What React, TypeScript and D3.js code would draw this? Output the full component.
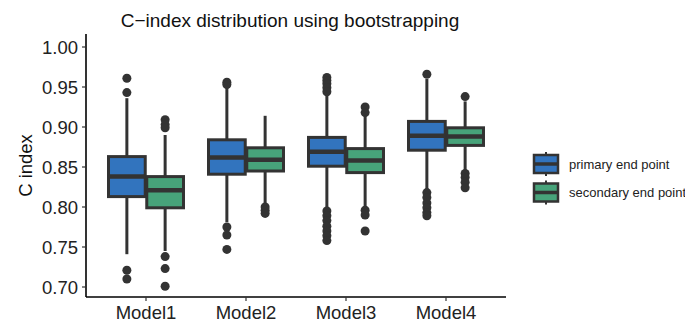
import * as d3 from "d3";

const models = ["Model1", "Model2", "Model3", "Model4"];
const groups = ["primary end point", "secondary end point"];
const colors = ["#3274BE", "#47A37A"];
const yTicks = [0.7, 0.75, 0.8, 0.85, 0.9, 0.95, 1.0];

// [lowerWhisker, q1, median, q3, upperWhisker] per model
const primaryStats = [
  [0.741, 0.813, 0.838, 0.863, 0.936],
  [0.781, 0.841, 0.862, 0.884, 0.95],
  [0.8, 0.851, 0.869, 0.887, 0.94],
  [0.822, 0.871, 0.889, 0.907, 0.96],
];
const secondaryStats = [
  [0.745, 0.799, 0.821, 0.838, 0.89],
  [0.803, 0.845, 0.859, 0.874, 0.914],
  [0.8, 0.843, 0.858, 0.873, 0.914],
  [0.845, 0.877, 0.888, 0.899, 0.932],
];
const primaryOutliers = [
  [0.961, 0.943, 0.721, 0.71],
  [0.956, 0.953, 0.775, 0.765, 0.747],
  [0.962, 0.958, 0.954, 0.949, 0.944, 0.795, 0.789, 0.783, 0.776, 0.77, 0.764, 0.758],
  [0.966, 0.818, 0.812, 0.805, 0.799, 0.793, 0.789],
];
const secondaryOutliers = [
  [0.909, 0.903, 0.899, 0.738, 0.723, 0.701],
  [0.8, 0.796, 0.792],
  [0.925, 0.918, 0.796, 0.79, 0.77],
  [0.938, 0.842, 0.837, 0.831, 0.824],
];

const W = 685;
const H = 324;
const left = 86;
const right = 506;
const top = 34;
const bottom = 297;
const stroke = "#333333";
const font = "'Liberation Sans', Arial, sans-serif";

export default function App() {
  const x = d3.scaleBand().domain(models).range([left, right]).paddingOuter(0.1).paddingInner(0);
  const y = d3.scaleLinear().domain([0.7, 1.0]).range([287, 47]);
  const sub = d3.scaleBand().domain(groups).range([0, x.bandwidth() * 0.75]).paddingInner(0.04);
  const off = (x.bandwidth() - x.bandwidth() * 0.75) / 2;

  const series = [
    { stats: primaryStats, outliers: primaryOutliers },
    { stats: secondaryStats, outliers: secondaryOutliers },
  ];

  return (
    <svg width={W} height={H} style={{ position: "absolute", left: 0, top: 0, background: "#fff" }}>
      <text x={290} y={27} textAnchor="middle" fontFamily={font} fontSize={19} fill="#111">
        C−index distribution using bootstrapping
      </text>

      {series.map((s, gi) =>
        models.map((m, mi) => {
          const [lo, q1, med, q3, hi] = s.stats[mi];
          const x0 = (x(m) as number) + off + (sub(groups[gi]) as number);
          const bw = sub.bandwidth();
          const cx = x0 + bw / 2;
          return (
            <g key={`${gi}-${mi}`}>
              <line x1={cx} x2={cx} y1={y(hi)} y2={y(q3)} stroke={stroke} strokeWidth={3} />
              <line x1={cx} x2={cx} y1={y(q1)} y2={y(lo)} stroke={stroke} strokeWidth={3} />
              <rect x={x0} y={y(q3)} width={bw} height={y(q1) - y(q3)} fill={colors[gi]} stroke={stroke} strokeWidth={3} />
              <line x1={x0} x2={x0 + bw} y1={y(med)} y2={y(med)} stroke={stroke} strokeWidth={4.5} />
              {s.outliers[mi].map((v, k) => (
                <circle key={k} cx={cx} cy={y(v)} r={4.5} fill={stroke} />
              ))}
            </g>
          );
        })
      )}

      {/* axes */}
      <line x1={left} x2={left} y1={top} y2={bottom} stroke="#000" strokeWidth={1.6} />
      <line x1={left} x2={right} y1={bottom} y2={bottom} stroke="#000" strokeWidth={1.6} />
      {yTicks.map((t) => (
        <g key={t}>
          <line x1={left - 4} x2={left} y1={y(t)} y2={y(t)} stroke="#333" strokeWidth={1.2} />
          <text x={left - 8} y={y(t)} dy="0.36em" textAnchor="end" fontFamily={font} fontSize={18.5} fill="#222">
            {d3.format(".2f")(t)}
          </text>
        </g>
      ))}
      {models.map((m) => {
        const cx = (x(m) as number) + x.bandwidth() / 2;
        return (
          <g key={m}>
            <line x1={cx} x2={cx} y1={bottom} y2={bottom + 4} stroke="#333" strokeWidth={1.2} />
            <text x={cx} y={319} textAnchor="middle" fontFamily={font} fontSize={18.5} fill="#222">
              {m}
            </text>
          </g>
        );
      })}
      <text
        transform={`translate(32, ${(top + bottom) / 2}) rotate(-90)`}
        textAnchor="middle"
        fontFamily={font}
        fontSize={18.5}
        fill="#111"
      >
        C index
      </text>

      {/* legend */}
      {groups.map((g, i) => {
        const ky = 155 + i * 28.5;
        return (
          <g key={g}>
            <line x1={546} x2={546} y1={ky - 3} y2={ky + 21} stroke={stroke} strokeWidth={2} />
            <rect x={534} y={ky} width={24} height={18} fill={colors[i]} stroke={stroke} strokeWidth={2.5} />
            <line x1={534} x2={558} y1={ky + 9} y2={ky + 9} stroke={stroke} strokeWidth={3.5} />
            <text x={569} y={ky + 9} dy="0.35em" fontFamily={font} fontSize={13} fill="#222">
              {g}
            </text>
          </g>
        );
      })}
    </svg>
  );
}
